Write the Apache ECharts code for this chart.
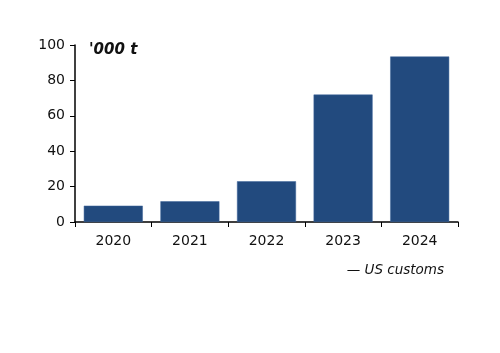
<!DOCTYPE html>
<html>
<head>
<meta charset="utf-8">
<script src="https://cdn.jsdelivr.net/npm/echarts@6/dist/echarts.min.js"></script>
<style>
  html, body { margin: 0; padding: 0; background: #fff; }
  #chart { width: 500px; height: 353px; }
</style>
</head>
<body>
<div id="chart"></div>
<script>
var years = ['2020', '2021', '2022', '2023', '2024'];
var imports = [9.2, 11.7, 23, 72, 93.5];
var yTicks = [0, 20, 40, 60, 80, 100];

var myChart = echarts.init(document.getElementById('chart'));
var fontFam = '"DejaVu Sans", Verdana, sans-serif';

var option = {
    animation: false,
    grid: {
        left: 75,
        right: 42,
        top: 45,
        bottom: 131
    },
    xAxis: {
        type: 'category',
        data: years,
        axisLine: { lineStyle: { color: '#000', width: 1.5 } },
        axisTick: { show: true, length: 5, lineStyle: { color: '#000' } },
        axisLabel: { color: '#111', fontSize: 14, fontFamily: fontFam, margin: 12 }
    },
    yAxis: {
        type: 'value',
        min: yTicks[0],
        max: yTicks[yTicks.length - 1],
        interval: 20,
        splitLine: { show: false },
        axisLine: { show: true, lineStyle: { color: '#000', width: 1.5 } },
        axisTick: { show: true, length: 5, lineStyle: { color: '#000' } },
        axisLabel: { color: '#111', fontSize: 14, fontFamily: fontFam, margin: 10 }
    },
    series: [{
        type: 'bar',
        data: imports,
        barCategoryGap: '23%',
        itemStyle: { color: '#224a7e', borderColor: '#3d659a', borderWidth: 0.5 }
    }],
    graphic: [
        {
            type: 'text',
            left: 89,
            top: 43,
            style: {
                text: "'000 t",
                font: 'italic bold 15px ' + fontFam,
                fill: '#111'
            }
        },
        {
            type: 'text',
            right: 56,
            top: 263,
            style: {
                text: '— US customs',
                font: 'italic 13.5px ' + fontFam,
                fill: '#111'
            }
        }
    ]
};

myChart.setOption(option, true);
</script>
</body>
</html>
